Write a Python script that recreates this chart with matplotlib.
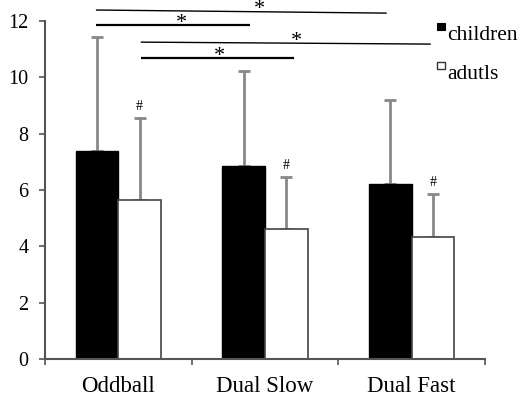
import matplotlib
matplotlib.use("Agg")
import matplotlib.pyplot as plt
import numpy as np
from matplotlib.patches import Rectangle

categories = ["Oddball", "Dual Slow", "Dual Fast"]
series_names = ["children", "adutls"]
children = [7.38, 6.85, 6.20]
children_err = [4.05, 3.37, 3.00]
adults = [5.65, 4.61, 4.33]
adults_err = [2.90, 1.86, 1.52]
yticks = [0, 2, 4, 6, 8, 10, 12]

# significance brackets
sig_x0 = [-0.153, -0.153, 0.153, 0.153]
sig_x1 = [1.83, 0.895, 2.13, 1.20]
sig_y0 = [12.39, 11.86, 11.25, 10.69]
sig_y1 = [12.28, 11.86, 11.18, 10.69]
sig_lw = [1.0, 1.6, 1.0, 1.6]
star_x = [0.963, 0.432, 1.214, 0.69]

plt.rcParams['font.family'] = ['Liberation Serif', 'DejaVu Serif']

fig = plt.figure(figsize=(5.2, 3.95), dpi=100)
ax = fig.add_axes([45/520, 36/395, 440/520, 338/395])

x = np.arange(len(categories))
w = 0.29
axis_col = "#555555"
err_col = "#888888"

ax.bar(x - w/2, children, w, color="black", edgecolor="black", linewidth=1, zorder=2)
ax.bar(x + w/2, adults, w, color="white", edgecolor="#444444", linewidth=1.2, zorder=2)
ax.errorbar(x - w/2, children, yerr=[np.zeros(3), children_err], fmt="none",
            ecolor=err_col, elinewidth=2, capsize=4, capthick=2, zorder=1)
ax.errorbar(x + w/2, adults, yerr=[np.zeros(3), adults_err], fmt="none",
            ecolor=err_col, elinewidth=2, capsize=4, capthick=2, zorder=1)

for xi, a, e in zip(x + w/2, adults, adults_err):
    ax.text(xi, a + e + 0.4, "#", ha="center", va="center", fontsize=10)

for x0, x1, y0, y1, lw, sx in zip(sig_x0, sig_x1, sig_y0, sig_y1, sig_lw, star_x):
    ax.plot([x0, x1], [y0, y1], color="black", lw=lw, clip_on=False, solid_capstyle="butt")
    ax.text(sx, (y0 + y1) / 2 - 0.1, "*", ha="center", va="baseline",
            fontsize=16, clip_on=False)

ax.set_xlim(-0.5, 2.5)
ax.set_ylim(0, 12)
ax.set_yticks(yticks)
ax.set_xticks(x)
ax.set_xticklabels(categories, fontsize=16.5)
ax.set_xticks([-0.5, 0.5, 1.5, 2.5], minor=True)
ax.tick_params(axis="x", which="major", length=0, pad=12)
ax.tick_params(axis="x", which="minor", length=4, width=1.2, color=axis_col, direction="out")
ax.tick_params(axis="y", length=4, width=1.2, color=axis_col, labelsize=14.5, pad=8)
for s in ["top", "right"]:
    ax.spines[s].set_visible(False)
for s in ["left", "bottom"]:
    ax.spines[s].set_color(axis_col)
    ax.spines[s].set_linewidth(1.5)

# legend
fig.patches.append(Rectangle((437/520, 1 - 30/395), 8/520, 7/395, transform=fig.transFigure,
                             facecolor="black", edgecolor="black", lw=0.8))
fig.patches.append(Rectangle((437/520, 1 - 69/395), 8/520, 7/395, transform=fig.transFigure,
                             facecolor="white", edgecolor="#333333", lw=1.0))
fig.text(447/520, 1 - 40/395, series_names[0], fontsize=15.5, va="baseline")
fig.text(447/520, 1 - 79/395, series_names[1], fontsize=15.5, va="baseline")

fig.savefig("out.png", dpi=100)
